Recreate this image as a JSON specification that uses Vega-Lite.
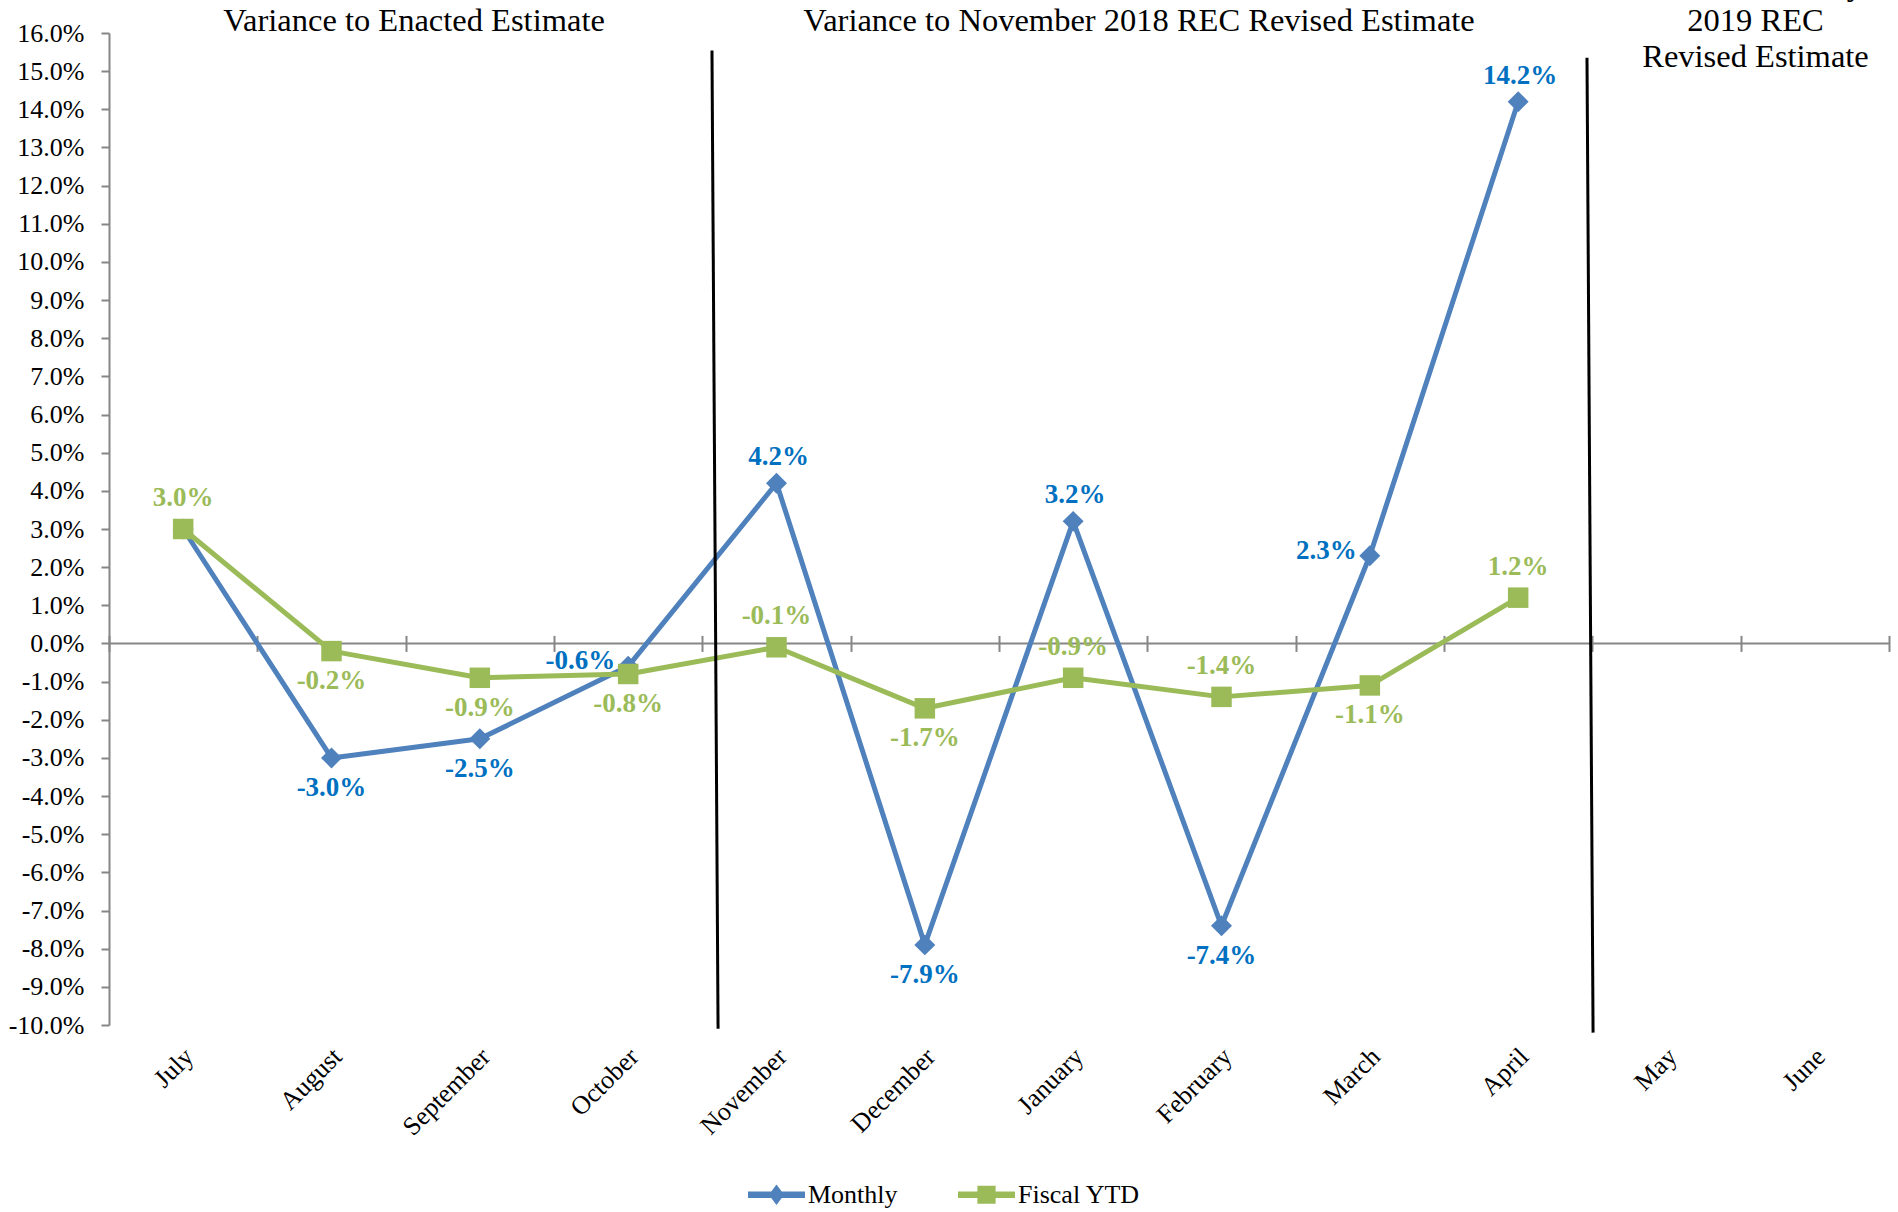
{
  "$schema": "https://vega.github.io/schema/vega-lite/v6.json",
  "width": 1780,
  "height": 992,
  "autosize": {"type": "none"},
  "padding": {"left": 109, "top": 33, "right": 9, "bottom": 187},
  "background": "white",
  "config": {
    "view": {"stroke": null},
    "font": "Liberation Serif",
    "locale": {"number": {"decimal": ".", "thousands": ",", "grouping": [3], "currency": ["$", ""], "minus": "-"}}
  },
  "resolve": {"scale": {"x": "independent"}, "axis": {"x": "independent"}},
  "layer": [
    {
      "data": {"values": [{}]},
      "layer": [
        {
          "mark": {"type": "rule", "color": "#868686", "strokeWidth": 2},
          "encoding": {
            "x": {"datum": 0, "type": "quantitative", "scale": {"domain": [0, 12], "nice": false, "zero": false},
              "axis": {"orient": "bottom", "values": [0,1,2,3,4,5,6,7,8,9,10,11,12], "tickCount": 20, "labels": false, "domain": false, "ticks": true, "tickSize": 16, "tickColor": "#868686", "tickWidth": 2, "grid": false, "title": null, "offset": -389.6}},
            "x2": {"datum": 12},
            "y": {"datum": 0, "type": "quantitative", "scale": {"domain": [-0.1, 0.16], "nice": false, "zero": false},
              "axis": {"values": [-0.1,-0.09,-0.08,-0.07,-0.06,-0.05,-0.04,-0.03,-0.02,-0.01,0,0.01,0.02,0.03,0.04,0.05,0.06,0.07,0.08,0.09,0.1,0.11,0.12,0.13,0.14,0.15,0.16], "tickCount": 40,
                "format": ".1%", "labelFont": "Liberation Serif", "labelFontSize": 26, "labelColor": "black", "domainColor": "#868686", "domainWidth": 2, "tickColor": "#868686", "tickWidth": 2, "tickSize": 8, "labelPadding": 17, "grid": false, "title": null, "labelOverlap": false, "labelBound": false, "labelFlush": false}}
          }
        }
      ]
    },
    {
      "data": {"values": [
        {"month": "July", "series": "Monthly", "value": 0.030},
        {"month": "August", "series": "Monthly", "value": -0.030},
        {"month": "September", "series": "Monthly", "value": -0.025},
        {"month": "October", "series": "Monthly", "value": -0.006},
        {"month": "November", "series": "Monthly", "value": 0.042},
        {"month": "December", "series": "Monthly", "value": -0.079},
        {"month": "January", "series": "Monthly", "value": 0.032},
        {"month": "February", "series": "Monthly", "value": -0.074},
        {"month": "March", "series": "Monthly", "value": 0.023},
        {"month": "April", "series": "Monthly", "value": 0.142},
        {"month": "July", "series": "Fiscal YTD", "value": 0.030},
        {"month": "August", "series": "Fiscal YTD", "value": -0.002},
        {"month": "September", "series": "Fiscal YTD", "value": -0.009},
        {"month": "October", "series": "Fiscal YTD", "value": -0.008},
        {"month": "November", "series": "Fiscal YTD", "value": -0.001},
        {"month": "December", "series": "Fiscal YTD", "value": -0.017},
        {"month": "January", "series": "Fiscal YTD", "value": -0.009},
        {"month": "February", "series": "Fiscal YTD", "value": -0.014},
        {"month": "March", "series": "Fiscal YTD", "value": -0.011},
        {"month": "April", "series": "Fiscal YTD", "value": 0.012}
      ]},
      "encoding": {
        "x": {"field": "month", "type": "ordinal",
          "scale": {"type": "band", "domain": ["July","August","September","October","November","December","January","February","March","April","May","June"], "paddingInner": 0, "paddingOuter": 0},
          "axis": {"orient": "bottom", "labelAngle": -45, "domain": false, "ticks": false, "tickSize": 0, "labelPadding": 18, "labelOffset": -3, "labelFont": "Liberation Serif", "labelFontSize": 26, "labelColor": "black", "title": null, "grid": false, "labelOverlap": false}},
        "y": {"field": "value", "type": "quantitative",
          "scale": {"domain": [-0.1, 0.16], "nice": false, "zero": false},
          "axis": {"values": [-0.1,-0.09,-0.08,-0.07,-0.06,-0.05,-0.04,-0.03,-0.02,-0.01,0,0.01,0.02,0.03,0.04,0.05,0.06,0.07,0.08,0.09,0.1,0.11,0.12,0.13,0.14,0.15,0.16], "tickCount": 40,
            "format": ".1%", "labelFont": "Liberation Serif", "labelFontSize": 26, "labelColor": "black", "domainColor": "#868686", "domainWidth": 2, "tickColor": "#868686", "tickWidth": 2, "tickSize": 8, "labelPadding": 17, "grid": false, "title": null, "labelOverlap": false, "labelBound": false, "labelFlush": false}}
      },
      "layer": [
        {
          "transform": [{"filter": {"field": "series", "equal": "Monthly"}}],
          "mark": {"type": "line", "strokeWidth": 5, "strokeJoin": "round", "strokeCap": "round", "color": "#4F81BD"}
        },
        {
          "transform": [{"filter": {"field": "series", "equal": "Monthly"}}],
          "mark": {"type": "point", "filled": true, "opacity": 1, "size": 440, "shape": "diamond", "color": "#4F81BD"}
        },
        {
          "transform": [{"filter": {"field": "series", "equal": "Fiscal YTD"}}],
          "mark": {"type": "line", "strokeWidth": 5, "strokeJoin": "round", "strokeCap": "round", "color": "#9BBB59"}
        },
        {
          "transform": [{"filter": {"field": "series", "equal": "Fiscal YTD"}}],
          "mark": {"type": "point", "filled": true, "opacity": 1, "size": 420, "shape": "square", "color": "#9BBB59"}
        },
        {
          "transform": [{"filter": "false"}],
          "mark": {"type": "point", "filled": true, "opacity": 1},
          "encoding": {
            "color": {"field": "series", "type": "nominal", "scale": {"domain": ["Monthly", "Fiscal YTD"], "range": ["#4F81BD", "#9BBB59"]},
              "legend": {"orient": "none", "legendX": 639, "legendY": 1133, "direction": "horizontal", "title": null,
                "labelFont": "Liberation Serif", "labelFontSize": 26, "labelColor": "black", "symbolSize": 3249, "columnPadding": 60, "labelOffset": 3, "symbolStrokeWidth": 0, "symbolOpacity": 1}},
            "shape": {"field": "series", "type": "nominal",
              "scale": {"domain": ["Monthly", "Fiscal YTD"], "range": ["M-1,-0.11H1V0.11H-1Z M-0.27,0L0,-0.36L0.27,0L0,0.36Z", "M-1,-0.11H1V0.11H-1Z M-0.32,-0.32H0.32V0.32H-0.32Z"]},
              "legend": {"orient": "none", "legendX": 639, "legendY": 1133, "direction": "horizontal", "title": null,
                "labelFont": "Liberation Serif", "labelFontSize": 26, "labelColor": "black", "symbolSize": 3249, "columnPadding": 60, "labelOffset": 3, "symbolStrokeWidth": 0, "symbolOpacity": 1}}
          }
        },
        {
          "transform": [{"filter": {"and": [{"field": "series", "equal": "Monthly"}, {"field": "month", "oneOf": ["November", "January", "April"]}]}}],
          "mark": {"type": "text", "font": "Liberation Serif", "fontWeight": "bold", "fontSize": 27, "color": "#0070C0", "baseline": "middle", "dy": -26, "dx": 2},
          "encoding": {"text": {"field": "value", "type": "quantitative", "format": ".1%"}}
        },
        {
          "transform": [{"filter": {"and": [{"field": "series", "equal": "Monthly"}, {"field": "month", "oneOf": ["August", "September", "December", "February"]}]}}],
          "mark": {"type": "text", "font": "Liberation Serif", "fontWeight": "bold", "fontSize": 27, "color": "#0070C0", "baseline": "middle", "dy": 30},
          "encoding": {"text": {"field": "value", "type": "quantitative", "format": ".1%"}}
        },
        {
          "transform": [{"filter": {"and": [{"field": "series", "equal": "Monthly"}, {"field": "month", "oneOf": ["October", "March"]}]}}],
          "mark": {"type": "text", "font": "Liberation Serif", "fontWeight": "bold", "fontSize": 27, "color": "#0070C0", "baseline": "middle", "align": "right", "dx": -13, "dy": -5},
          "encoding": {"text": {"field": "value", "type": "quantitative", "format": ".1%"}}
        },
        {
          "transform": [{"filter": {"and": [{"field": "series", "equal": "Fiscal YTD"}, {"field": "month", "oneOf": ["July", "November", "January", "February", "April"]}]}}],
          "mark": {"type": "text", "font": "Liberation Serif", "fontWeight": "bold", "fontSize": 27, "color": "#9BBB59", "baseline": "middle", "dy": -31},
          "encoding": {"text": {"field": "value", "type": "quantitative", "format": ".1%"}}
        },
        {
          "transform": [{"filter": {"and": [{"field": "series", "equal": "Fiscal YTD"}, {"field": "month", "oneOf": ["August", "September", "October", "December", "March"]}]}}],
          "mark": {"type": "text", "font": "Liberation Serif", "fontWeight": "bold", "fontSize": 27, "color": "#9BBB59", "baseline": "middle", "dy": 30},
          "encoding": {"text": {"field": "value", "type": "quantitative", "format": ".1%"}}
        }
      ]
    },
    {
      "data": {"values": [{}]},
      "layer": [
        {
          "mark": {"type": "rule", "color": "black", "strokeWidth": 3},
          "encoding": {
            "x": {"datum": 4.065, "type": "quantitative", "scale": {"domain": [0, 12], "nice": false, "zero": false}, "axis": null},
            "x2": {"datum": 4.106},
            "y": {"datum": 0.1554, "type": "quantitative", "scale": {"domain": [-0.1, 0.16], "nice": false, "zero": false}},
            "y2": {"datum": -0.101}
          }
        },
        {
          "mark": {"type": "rule", "color": "black", "strokeWidth": 3},
          "encoding": {
            "x": {"datum": 9.964, "type": "quantitative", "scale": {"domain": [0, 12], "nice": false, "zero": false}, "axis": null},
            "x2": {"datum": 10.005},
            "y": {"datum": 0.1535, "type": "quantitative", "scale": {"domain": [-0.1, 0.16], "nice": false, "zero": false}},
            "y2": {"datum": -0.102}
          }
        },
        {
          "mark": {"type": "text", "font": "Liberation Serif", "fontSize": 32.5, "color": "black", "baseline": "middle", "align": "center"},
          "encoding": {
            "x": {"datum": 2.056, "type": "quantitative", "scale": {"domain": [0, 12], "nice": false, "zero": false}, "axis": null},
            "y": {"datum": 0.1632, "type": "quantitative", "scale": {"domain": [-0.1, 0.16], "nice": false, "zero": false}},
            "text": {"value": "Variance to Enacted Estimate"}
          }
        },
        {
          "mark": {"type": "text", "font": "Liberation Serif", "fontSize": 32.5, "color": "black", "baseline": "middle", "align": "center"},
          "encoding": {
            "x": {"datum": 6.944, "type": "quantitative", "scale": {"domain": [0, 12], "nice": false, "zero": false}, "axis": null},
            "y": {"datum": 0.1632, "type": "quantitative", "scale": {"domain": [-0.1, 0.16], "nice": false, "zero": false}},
            "text": {"value": "Variance to November 2018 REC Revised Estimate"}
          }
        },
        {
          "mark": {"type": "text", "font": "Liberation Serif", "fontSize": 32.5, "color": "black", "baseline": "middle", "align": "center", "lineHeight": 36},
          "encoding": {
            "x": {"datum": 11.1, "type": "quantitative", "scale": {"domain": [0, 12], "nice": false, "zero": false}, "axis": null},
            "y": {"datum": 0.1725, "type": "quantitative", "scale": {"domain": [-0.1, 0.16], "nice": false, "zero": false}},
            "text": {"value": ["Variance to May", "2019 REC", "Revised Estimate"]}
          }
        }
      ]
    }
  ]
}
